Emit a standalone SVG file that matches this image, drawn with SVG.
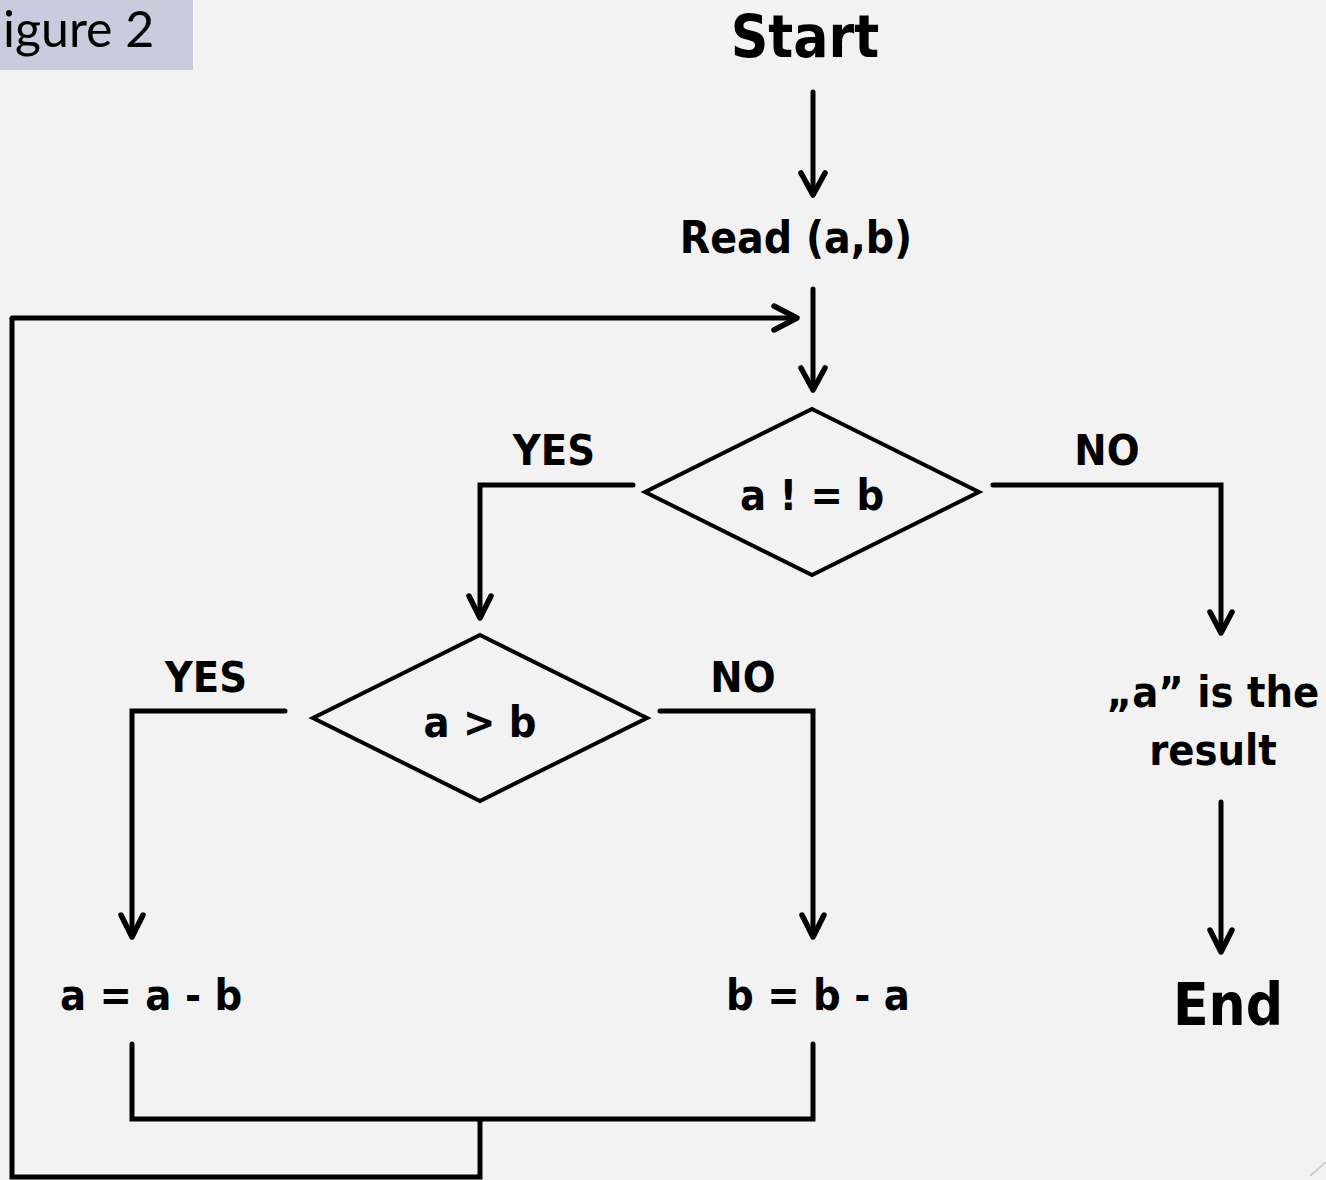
<svg xmlns="http://www.w3.org/2000/svg" width="1326" height="1180" viewBox="0 0 1326 1180">
<defs>
<style>
.t{font-family:"DejaVu Sans Condensed","DejaVu Sans",sans-serif;font-weight:bold;fill:#000;text-anchor:middle}
.c{fill:none;stroke:#000;stroke-width:5;stroke-linecap:round;stroke-linejoin:miter}
.d{fill:none;stroke:#000;stroke-width:4;stroke-linejoin:miter}
.ah{fill:none;stroke:#000;stroke-width:5.5;stroke-linecap:round;stroke-linejoin:round}
</style>
</defs>
<rect x="0" y="0" width="1326" height="1180" fill="#f2f2f2"/>
<g id="tab">
<rect x="0" y="0" width="193" height="70" fill="#c9ccdc"/>
<text x="3" y="47" font-family="Lato, 'Open Sans', sans-serif" font-size="50" fill="#000">igure 2</text>
</g>
<line x1="1310" y1="1176" x2="1326" y2="1162" stroke="#cfcfcf" stroke-width="2"/>
<g id="connectors">
<path class="c" d="M813 92 V194"/>
<path class="ah" d="M801 173 L813 195 L825 173"/>
<path class="c" d="M813 289 V388"/>
<path class="ah" d="M801 368 L813 390 L825 368"/>
<path class="c" d="M12 318 H795"/>
<path class="ah" d="M774 306 L797 318 L774 330"/>
<path class="c" d="M633 485 H480 V616"/>
<path class="ah" d="M469 596 L480 618 L491 596"/>
<path class="c" d="M993 485 H1221 V631"/>
<path class="ah" d="M1210 612 L1221 633 L1232 612"/>
<path class="c" d="M285 711 H132 V935"/>
<path class="ah" d="M121 915 L132 937 L143 915"/>
<path class="c" d="M660 711 H813 V935"/>
<path class="ah" d="M802 915 L813 937 L824 915"/>
<path class="c" d="M1221 802 V950"/>
<path class="ah" d="M1210 930 L1221 952 L1232 930"/>
<path class="c" d="M132 1044 V1119 H813 V1044"/>
<path d="M480 1119 V1177 H12 V318" fill="none" stroke="#000" stroke-width="5" stroke-linejoin="miter"/>
</g>
<g id="start"><text class="t" x="805" y="57" font-size="58">Start</text></g>
<g id="read"><text class="t" x="796" y="253" font-size="44">Read (a,b)</text></g>
<g id="dec1">
<polygon class="d" points="812,409 979,492 812,575 645,492"/>
<text class="t" x="812" y="510" font-size="43">a ! = b</text>
</g>
<g id="yes1"><text class="t" x="554" y="465" font-size="43">YES</text></g>
<g id="no1"><text class="t" x="1107" y="465" font-size="43">NO</text></g>
<g id="dec2">
<polygon class="d" points="480,635 647,718 480,801 313,718"/>
<text class="t" x="480" y="737" font-size="43">a &gt; b</text>
</g>
<g id="yes2"><text class="t" x="206" y="692" font-size="43">YES</text></g>
<g id="no2"><text class="t" x="743" y="692" font-size="43">NO</text></g>
<g id="result">
<text class="t" x="1213" y="707" font-size="43">„a” is the</text>
<text class="t" x="1213" y="765" font-size="43">result</text>
</g>
<g id="assignA"><text class="t" x="151" y="1010" font-size="43">a = a - b</text></g>
<g id="assignB"><text class="t" x="818" y="1010" font-size="43">b = b - a</text></g>
<g id="end"><text class="t" x="1228" y="1025" font-size="58">End</text></g>
</svg>
